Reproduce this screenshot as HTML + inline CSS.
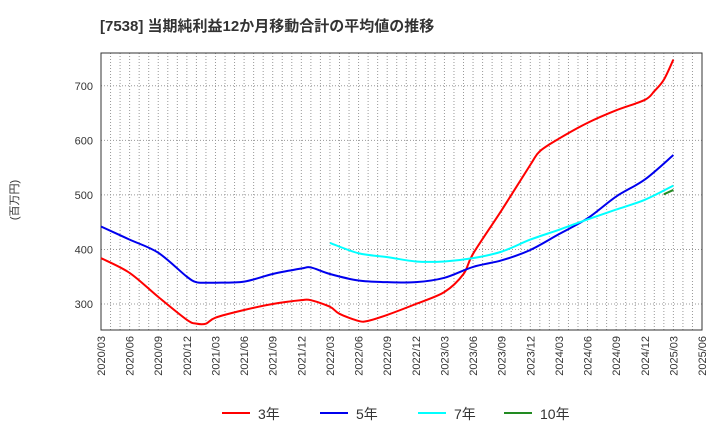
<!DOCTYPE html>
<html><head><meta charset="utf-8"><style>
body{margin:0;background:#fff;}
svg{display:block;font-family:"Liberation Sans","Noto Sans CJK JP",sans-serif;}
</style></head><body>
<svg id="chart" width="720" height="440">
<text x="100" y="31" font-size="15" font-weight="bold" fill="#333">[7538]  当期純利益12か月移動合計の平均値の推移</text>
<text transform="translate(18,200) rotate(-90)" text-anchor="middle" font-size="11" fill="#333">(百万円)</text>
<g id="grid"></g><g id="axes"></g><g id="series"></g>
<g id="legend"></g>
</svg>
<script>
const xTickLabels=["2020/03","2020/06","2020/09","2020/12","2021/03","2021/06","2021/09","2021/12","2022/03","2022/06","2022/09","2022/12","2023/03","2023/06","2023/09","2023/12","2024/03","2024/06","2024/09","2024/12","2025/03","2025/06"];
const yTicks=[300,400,500,600,700];
// month index from 2020/03
const m3=[0,3,6,9,10,11,12,15,18,21,22,24,25,27,28,30,33,36,38,39,42,45,46,48,51,54,57,58,59,60];
const v3=[384,357,313,271,264,264,275,289,300,307,307,295,282,269,269,280,300,322,355,392,472,555,580,603,632,655,674,690,711,748];
const m5=[0,3,6,9,10,11,12,15,18,21,22,24,27,30,33,36,39,42,45,48,51,54,57,60];
const v5=[442,418,394,350,340,339,339,341,355,365,367,355,343,340,340,348,368,380,399,428,457,497,528,573];
const m7=[24,27,30,33,36,39,42,45,48,51,54,57,60];
const v7=[412,393,386,378,378,384,396,418,436,455,473,491,517];
const m10=[59,60];
const v10=[501,509];
const X0=101,X1=702,Y0=53,Y1=330;
const xs=m=>X0+(X1-X0)*m/63;
const ys=v=>304-(v-300)*0.5456;
const NS="http://www.w3.org/2000/svg";
function mk(t,a,p){const e=document.createElementNS(NS,t);for(const k in a)e.setAttribute(k,a[k]);p.appendChild(e);return e;}
const grid=document.getElementById('grid'),axes=document.getElementById('axes'),ser=document.getElementById('series'),leg=document.getElementById('legend');
for(let m=1;m<63;m++){const l=mk('line',{x1:xs(m),x2:xs(m),y1:Y0,y2:Y1,stroke:'#999','stroke-dasharray':'1,2','stroke-width':1},grid);

}
yTicks.forEach(v=>{const l=mk('line',{x1:X0,x2:X1,y1:ys(v),y2:ys(v),stroke:'#999','stroke-dasharray':'1,2'},grid);


const t=mk('text',{x:X0-8,y:ys(v)+4,'text-anchor':'end','font-size':11,fill:'#333'},axes);t.textContent=v;

});
const fr=mk('rect',{x:X0,y:Y0,width:X1-X0,height:Y1-Y0,fill:'none',stroke:'#333','stroke-width':1},axes);


xTickLabels.forEach((s,i)=>{const x=xs(i*3);const t=mk('text',{transform:`translate(${x+4},${Y1+6}) rotate(-90)`,'text-anchor':'end','font-size':11,fill:'#333'},axes);t.textContent=s;

});
function smooth(pts){if(pts.length<3)return 'M'+pts.map(p=>p.join(',')).join(' L');
let d='M'+pts[0].join(',');
for(let i=0;i<pts.length-1;i++){const p0=pts[i-1]||pts[i],p1=pts[i],p2=pts[i+1],p3=pts[i+2]||p2;const t=0.16;
d+=` C${p1[0]+(p2[0]-p0[0])*t},${p1[1]+(p2[1]-p0[1])*t} ${p2[0]-(p3[0]-p1[0])*t},${p2[1]-(p3[1]-p1[1])*t} ${p2[0]},${p2[1]}`;}
return d;}
function line(ms,vs,c,name){const p=mk('path',{d:smooth(ms.map((m,i)=>[xs(m),ys(vs[i])])),fill:'none',stroke:c,'stroke-width':2,'stroke-linejoin':'round'},ser);

}
line(m3,v3,'#ff0000','series-3y');
line(m5,v5,'#0000ee','series-5y');
line(m7,v7,'#00ffff','series-7y');
line(m10,v10,'#228b22','series-10y');
[[222,'#ff0000','3年'],[320,'#0000ee','5年'],[418,'#00ffff','7年'],[504,'#228b22','10年']].forEach(([x,c,s])=>{
const l=mk('line',{x1:x,x2:x+28,y1:413,y2:413,stroke:c,'stroke-width':2},leg);


const t=mk('text',{x:x+36,y:419,'font-size':14,fill:'#333'},leg);t.textContent=s;

});
</script>
</body></html>
